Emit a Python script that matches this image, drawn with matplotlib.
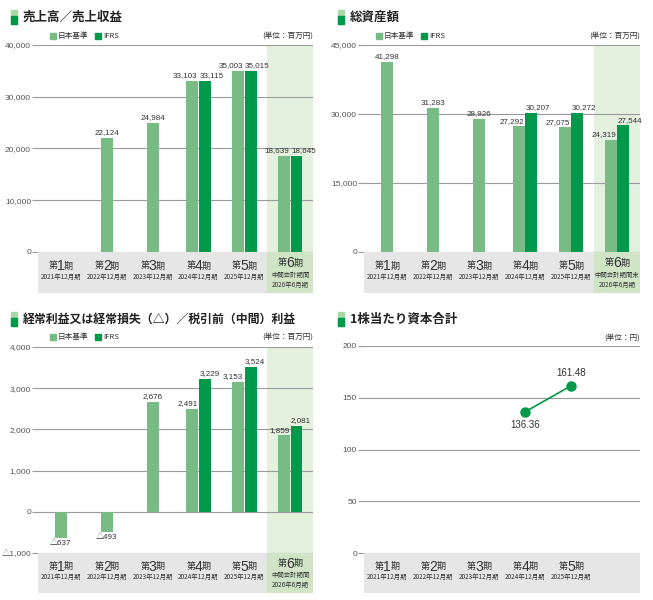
import matplotlib
matplotlib.use("Agg")
import matplotlib.pyplot as plt
from matplotlib.patches import Rectangle

plt.rcParams['font.family'] = ['Noto Sans CJK JP', 'DejaVu Sans']
NUM_FONT = ['Liberation Sans', 'Noto Sans CJK JP']

# data
periods = ["1", "2", "3", "4", "5", "6"]
fiscal_years = ["2021年12月期", "2022年12月期", "2023年12月期",
                "2024年12月期", "2025年12月期", "2026年6月期"]

sales_jp = [None, 22124, 24984, 33103, 35003, 18639]
sales_ifrs = [None, None, None, 33115, 35015, 18645]

assets_jp = [41298, 31283, 28926, 27292, 27075, 24319]
assets_ifrs = [None, None, None, 30207, 30272, 27544]

profit_jp = [-637, -493, 2676, 2491, 3153, 1859]
profit_ifrs = [None, None, None, 3229, 3524, 2081]

equity_per_share = [None, None, None, 136.36, 161.48]

JP_COLOR = "#78bb84"
IFRS_COLOR = "#00984a"
SHADE = "#e4f1df"
BAND = "#e6e6e6"
BAND6 = "#cfe5c6"
GRID = "#9a9a9a"
TXT = "#333333"

W, H = 653, 600
fig = plt.figure(figsize=(W / 100, H / 100), dpi=100)


def px_rect(x0, y0, x1, y1):
    return [x0 / W, 1 - y1 / H, (x1 - x0) / W, (y1 - y0) / H]


def fmt_val(v):
    if v < 0:
        return "△{:,}".format(abs(int(v)))
    return "{:,}".format(int(v))


def panel_title(x, y, text, size=9):
    fig.patches.append(Rectangle((x / W, 1 - (y + 7) / H), 6 / W, 14 / H,
                                 transform=fig.transFigure, color="#a9d8a6"))
    fig.patches.append(Rectangle((x / W, 1 - (y + 7) / H), 6 / W, 8 / H,
                                 transform=fig.transFigure, color=IFRS_COLOR))
    fig.text((x + 12) / W, 1 - y / H, text, fontsize=size, fontweight="bold",
             color="#222222", va="center", ha="left")


def legend_row(x, y):
    for i, (lab, col) in enumerate([("日本基準", JP_COLOR), ("IFRS", IFRS_COLOR)]):
        xx = x + i * 45
        fig.patches.append(Rectangle((xx / W, 1 - (y + 3) / H), 6 / W, 6 / H,
                                     transform=fig.transFigure, color=col))
        fig.text((xx + 8) / W, 1 - y / H, lab, fontsize=5.5, color=TXT,
                 va="center", ha="left")


def unit_label(x, y, text):
    fig.text(x / W, 1 - y / H, text, fontsize=5.5, color=TXT,
             va="center", ha="right")


def category_band(rect, n_labels, sixth_sub, shade6=True):
    bax = fig.add_axes(rect)
    bax.set_xlim(0, 6)
    bax.set_ylim(0, 41)
    bax.invert_yaxis()
    bax.axis("off")
    bax.add_patch(Rectangle((0, 0), 6, 41, color=BAND))
    if shade6:
        bax.add_patch(Rectangle((5, 0), 1, 41, color=BAND6))
    for i in range(n_labels):
        cx = i + 0.5
        if i == 5:
            ym, ys, yy = 11, 23, 33
        else:
            ym, ys, yy = 14, None, 25
        bax.text(cx - 0.07, ym, "第", fontsize=6.5, ha="right", va="center", color=TXT)
        bax.text(cx, ym, periods[i], fontsize=10, ha="center", va="center",
                 color=TXT, family=NUM_FONT)
        bax.text(cx + 0.07, ym, "期", fontsize=6.5, ha="left", va="center", color=TXT)
        if ys is not None:
            bax.text(cx, ys, sixth_sub, fontsize=4.6, ha="center", va="center", color=TXT)
        bax.text(cx, yy, fiscal_years[i], fontsize=4.6, ha="center", va="center", color=TXT)
    return bax


def setup_axes(rect, ylim, yticks, tick_fmt, shade6=True):
    ax = fig.add_axes(rect)
    ax.set_xlim(0, 6)
    ax.set_ylim(*ylim)
    for s in ax.spines.values():
        s.set_visible(False)
    ax.set_yticks(yticks)
    ax.set_yticklabels([tick_fmt(t) for t in yticks], family=NUM_FONT)
    ax.tick_params(axis="y", length=4, width=0.8, color=GRID, labelsize=6,
                   labelcolor="#555555", pad=1)
    ax.set_xticks([])
    for t in yticks:
        ax.axhline(t, color=GRID, lw=0.8, zorder=1)
    if shade6:
        ax.axvspan(5, 6, color=SHADE, zorder=0, lw=0)
    return ax


def draw_bars(ax, jp, ifrs, offset, neg_off):
    w = 0.26
    g = 0.01
    fs = 5.8
    for i in range(6):
        cx = i + 0.5
        pair = ifrs[i] is not None
        if jp[i] is not None:
            x = cx - w / 2 - g if pair else cx
            ax.bar(x, jp[i], width=w, color=JP_COLOR, zorder=2)
            if jp[i] < 0:
                ax.text(x, jp[i] - neg_off, fmt_val(jp[i]), fontsize=fs,
                        ha="center", va="top", color=TXT, zorder=3, family=NUM_FONT)
            elif pair:
                ax.text(cx - 0.02, jp[i] + offset, fmt_val(jp[i]), fontsize=fs,
                        ha="right", va="bottom", color=TXT, zorder=3, family=NUM_FONT)
            else:
                ax.text(x, jp[i] + offset, fmt_val(jp[i]), fontsize=fs,
                        ha="center", va="bottom", color=TXT, zorder=3, family=NUM_FONT)
        if pair:
            x = cx + w / 2 + g
            ax.bar(x, ifrs[i], width=w, color=IFRS_COLOR, zorder=2)
            ax.text(cx + 0.02, ifrs[i] + offset, fmt_val(ifrs[i]), fontsize=fs,
                    ha="left", va="bottom", color=TXT, zorder=3, family=NUM_FONT)


# panel 1: sales
panel_title(11, 17, "売上高／売上収益")
legend_row(50, 36)
unit_label(313, 36, "(単位：百万円)")
ax1 = setup_axes(px_rect(38, 45, 313, 252), (0, 40000),
                 [0, 10000, 20000, 30000, 40000], lambda t: "{:,}".format(t))
draw_bars(ax1, sales_jp, sales_ifrs, 300, 0)
category_band(px_rect(38, 252, 313, 293), 6, "中間会計期間")

# panel 2: total assets
panel_title(338, 17, "総資産額")
legend_row(376, 36)
unit_label(640, 36, "(単位：百万円)")
ax2 = setup_axes(px_rect(364, 45, 640, 252), (0, 45000),
                 [0, 15000, 30000, 45000], lambda t: "{:,}".format(t))
draw_bars(ax2, assets_jp, assets_ifrs, 350, 0)
category_band(px_rect(364, 252, 640, 293), 6, "中間会計期間末")

# panel 3: ordinary profit
panel_title(11, 319, "経常利益又は経常損失（△）／税引前（中間）利益", size=8.6)
legend_row(50, 337)
unit_label(313, 337, "(単位：百万円)")
ax3 = setup_axes(px_rect(38, 347, 313, 553), (-1000, 4000),
                 [-1000, 0, 1000, 2000, 3000, 4000],
                 lambda t: ("△{:,}".format(-t) if t < 0 else "{:,}".format(t)))
draw_bars(ax3, profit_jp, profit_ifrs, 40, 40)
category_band(px_rect(38, 553, 313, 593), 6, "中間会計期間")

# panel 4: equity per share
panel_title(338, 319, "1株当たり資本合計")
unit_label(640, 338, "(単位：円)")
ax4 = setup_axes(px_rect(364, 346, 640, 553), (0, 200),
                 [0, 50, 100, 150, 200], lambda t: str(t), shade6=False)
xs = [i + 0.5 for i, v in enumerate(equity_per_share) if v is not None]
ys = [v for v in equity_per_share if v is not None]
ax4.plot(xs, ys, color=IFRS_COLOR, lw=1.2, marker="o", markersize=6.5, zorder=3)
ax4.text(xs[0], ys[0] - 8, "{:.2f}".format(ys[0]), fontsize=7, ha="center",
         va="top", color=TXT, family=NUM_FONT)
ax4.text(xs[1], ys[1] + 8, "{:.2f}".format(ys[1]), fontsize=7, ha="center",
         va="bottom", color=TXT, family=NUM_FONT)
category_band(px_rect(364, 553, 640, 593), 5, "", shade6=False)

fig.savefig("out.png", dpi=100, facecolor="white")
